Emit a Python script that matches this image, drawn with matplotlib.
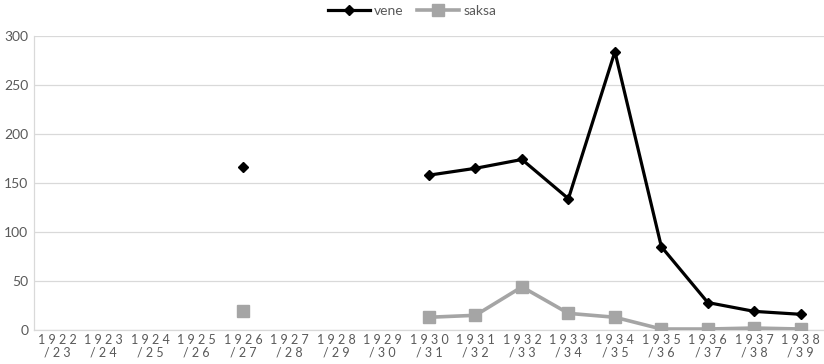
import numpy as np
import matplotlib.pyplot as plt

# season labels, 1922/23 ... 1938/39
years = [1922, 1923, 1924, 1925, 1926, 1927, 1928, 1929, 1930,
         1931, 1932, 1933, 1934, 1935, 1936, 1937, 1938]
nan = np.nan
vene = [nan, nan, nan, nan, 166, nan, nan, nan, 158,
        165, 174, 134, 284, 85, 28, 19, 16]
saksa = [nan, nan, nan, nan, 19, nan, nan, nan, 13,
         15, 44, 17, 13, 1, 1, 2, 1]


def spaced(s):
    return ' '.join(s)


labels = [spaced(str(y)) + '\n' + spaced('/' + str(y + 1)[2:]) for y in years]

plt.rcParams['font.family'] = ['Lato', 'DejaVu Sans']
txt = '#595959'

fig = plt.figure(figsize=(8.24, 3.64), dpi=100)
ax = fig.add_axes([34 / 824, 1 - 330 / 364, 790 / 824, 294 / 364])

x = np.arange(len(years))
ax.plot(x, saksa, color='#a5a5a5', lw=2.6, marker='s', ms=8.5,
        label='saksa', zorder=3)
ax.plot(x, vene, color='black', lw=2.3, marker='D', ms=5.5,
        label='vene', zorder=4)

ax.set_xlim(-0.5, len(years) - 0.5)
ax.set_ylim(0, 300)
ax.set_yticks(range(0, 301, 50))
ax.set_xticks(x)
ax.set_xticklabels(labels, fontsize=9, color=txt, linespacing=1.0)
ax.tick_params(axis='y', labelsize=10, colors=txt, length=0, pad=4)
ax.tick_params(axis='x', length=0, pad=3)
ax.grid(axis='y', color='#d9d9d9', lw=0.9)
ax.set_axisbelow(True)
for side in ['top', 'right']:
    ax.spines[side].set_visible(False)
for side in ['left', 'bottom']:
    ax.spines[side].set_color('#d9d9d9')
    ax.spines[side].set_linewidth(0.9)

h, l = ax.get_legend_handles_labels()
fig.legend(h[::-1], l[::-1], loc='upper center', bbox_to_anchor=(0.5, 1.02),
           ncol=2, frameon=False, fontsize=10, labelcolor=txt,
           handlelength=3.0, handletextpad=0.3, columnspacing=1.0)

fig.savefig('out.png', dpi=100)
